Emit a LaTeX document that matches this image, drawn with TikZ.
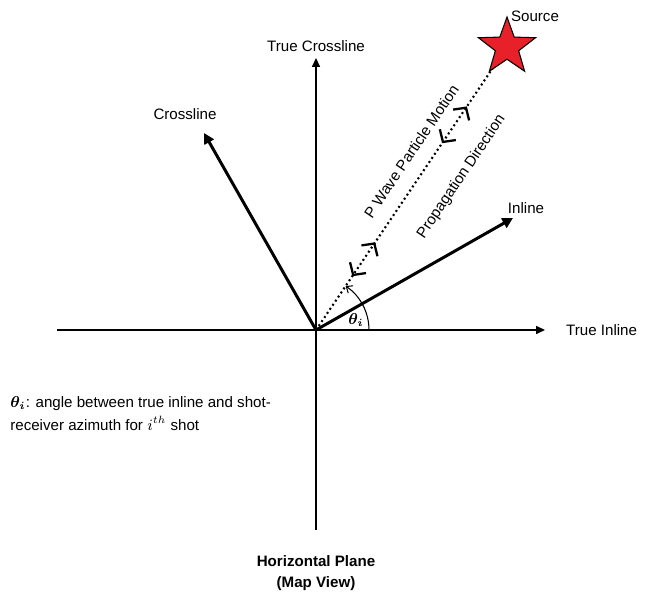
\documentclass[tikz,border=0pt]{standalone}
\usepackage{amsmath}
\usepackage{fontspec}
\setmainfont{Liberation Sans}
\usetikzlibrary{positioning,arrows.meta,shapes.geometric,decorations.markings}
\definecolor{srcred}{HTML}{E8202A}
\tikzset{
  axis/.style={line width=0.7pt,-{Triangle[length=5pt,width=4.5pt]}},
  heavy/.style={line width=1.7pt,-{Triangle[length=6pt,width=6pt]}},
  lbl/.style={font=\fontsize{8.6}{10}\selectfont},
  pbarb/.tip={Straight Barb[length=5pt,width=11pt,line width=1.3pt]},
  pwave/.style={line width=1.2pt,dash pattern=on 1.1pt off 1.7pt,
    decoration={markings,
      mark=at position 0.19 with {\arrowreversed{pbarb}},
      mark=at position 0.31 with {\arrow{pbarb}},
      mark=at position 0.66 with {\arrowreversed{pbarb}},
      mark=at position 0.79 with {\arrow{pbarb}}},
    postaction={decorate}}
}

\begin{document}
\begin{tikzpicture}
  \useasboundingbox (-6.32,-5.42) rectangle (6.76,6.6);
  % axes of the map view
  \coordinate (O) at (0,0);
  \coordinate (xl) at (-5.18,0);
  \coordinate (xr) at (4.58,0);
  \coordinate (yb) at (0,-4.0);
  \coordinate (yt) at (0,5.44);
  \draw[axis] (xl) -- (xr);
  \draw[axis] (yb) -- (yt);
  \node[lbl,above=0pt of yt] (tcl) {True Crossline};
  \node[lbl,right=0.3cm of xr] (til) {True Inline};
  % rotated acquisition axes
  \coordinate (cl) at (-2.24,3.94);
  \coordinate (il) at (3.94,2.24);
  \draw[heavy] (O) -- (cl);
  \draw[heavy] (O) -- (il);
  \node[lbl] (cllbl) at (-2.62,4.32) {Crossline};
  \node[lbl] (illbl) at (4.2,2.44) {Inline};
  % ray to the source
  \coordinate (srcc) at (3.82,5.66);
  \draw[pwave] (O) -- (srcc)
    node[lbl,pos=0.59,sloped,above=0.17cm] (pw) {P Wave Particle Motion}
    node[lbl,pos=0.61,sloped,below=0.42cm] (pd) {Propagation Direction};
  \node[star,star points=5,star point ratio=2.45,minimum size=1.2cm,inner sep=0pt,
        draw,line width=0.6pt,fill=srcred] (src) at (srcc) {};
  \node[lbl] (srclbl) at (4.38,6.28) {Source};
  % azimuth angle
  \draw[line width=0.6pt,-{Straight Barb[length=3pt,width=5pt]}]
    (1.06,0) arc[start angle=0,end angle=56,radius=1.06];
  \node[lbl] (th) at (0.8,0.2) {$\boldsymbol{\theta_i}$};
  % notes
  \node[font=\fontsize{8.6}{13}\selectfont,align=left,anchor=west,inner sep=0pt] (note)
    at (-6.12,-1.67) {$\boldsymbol{\theta_i}$: angle between true inline and shot-\\receiver azimuth for $i^{th}$ shot};
  \node[font=\fontsize{8.6}{12}\selectfont\bfseries,align=center] (plane)
    at (0,-4.86) {Horizontal Plane\\(Map View)};
\end{tikzpicture}
\end{document}
